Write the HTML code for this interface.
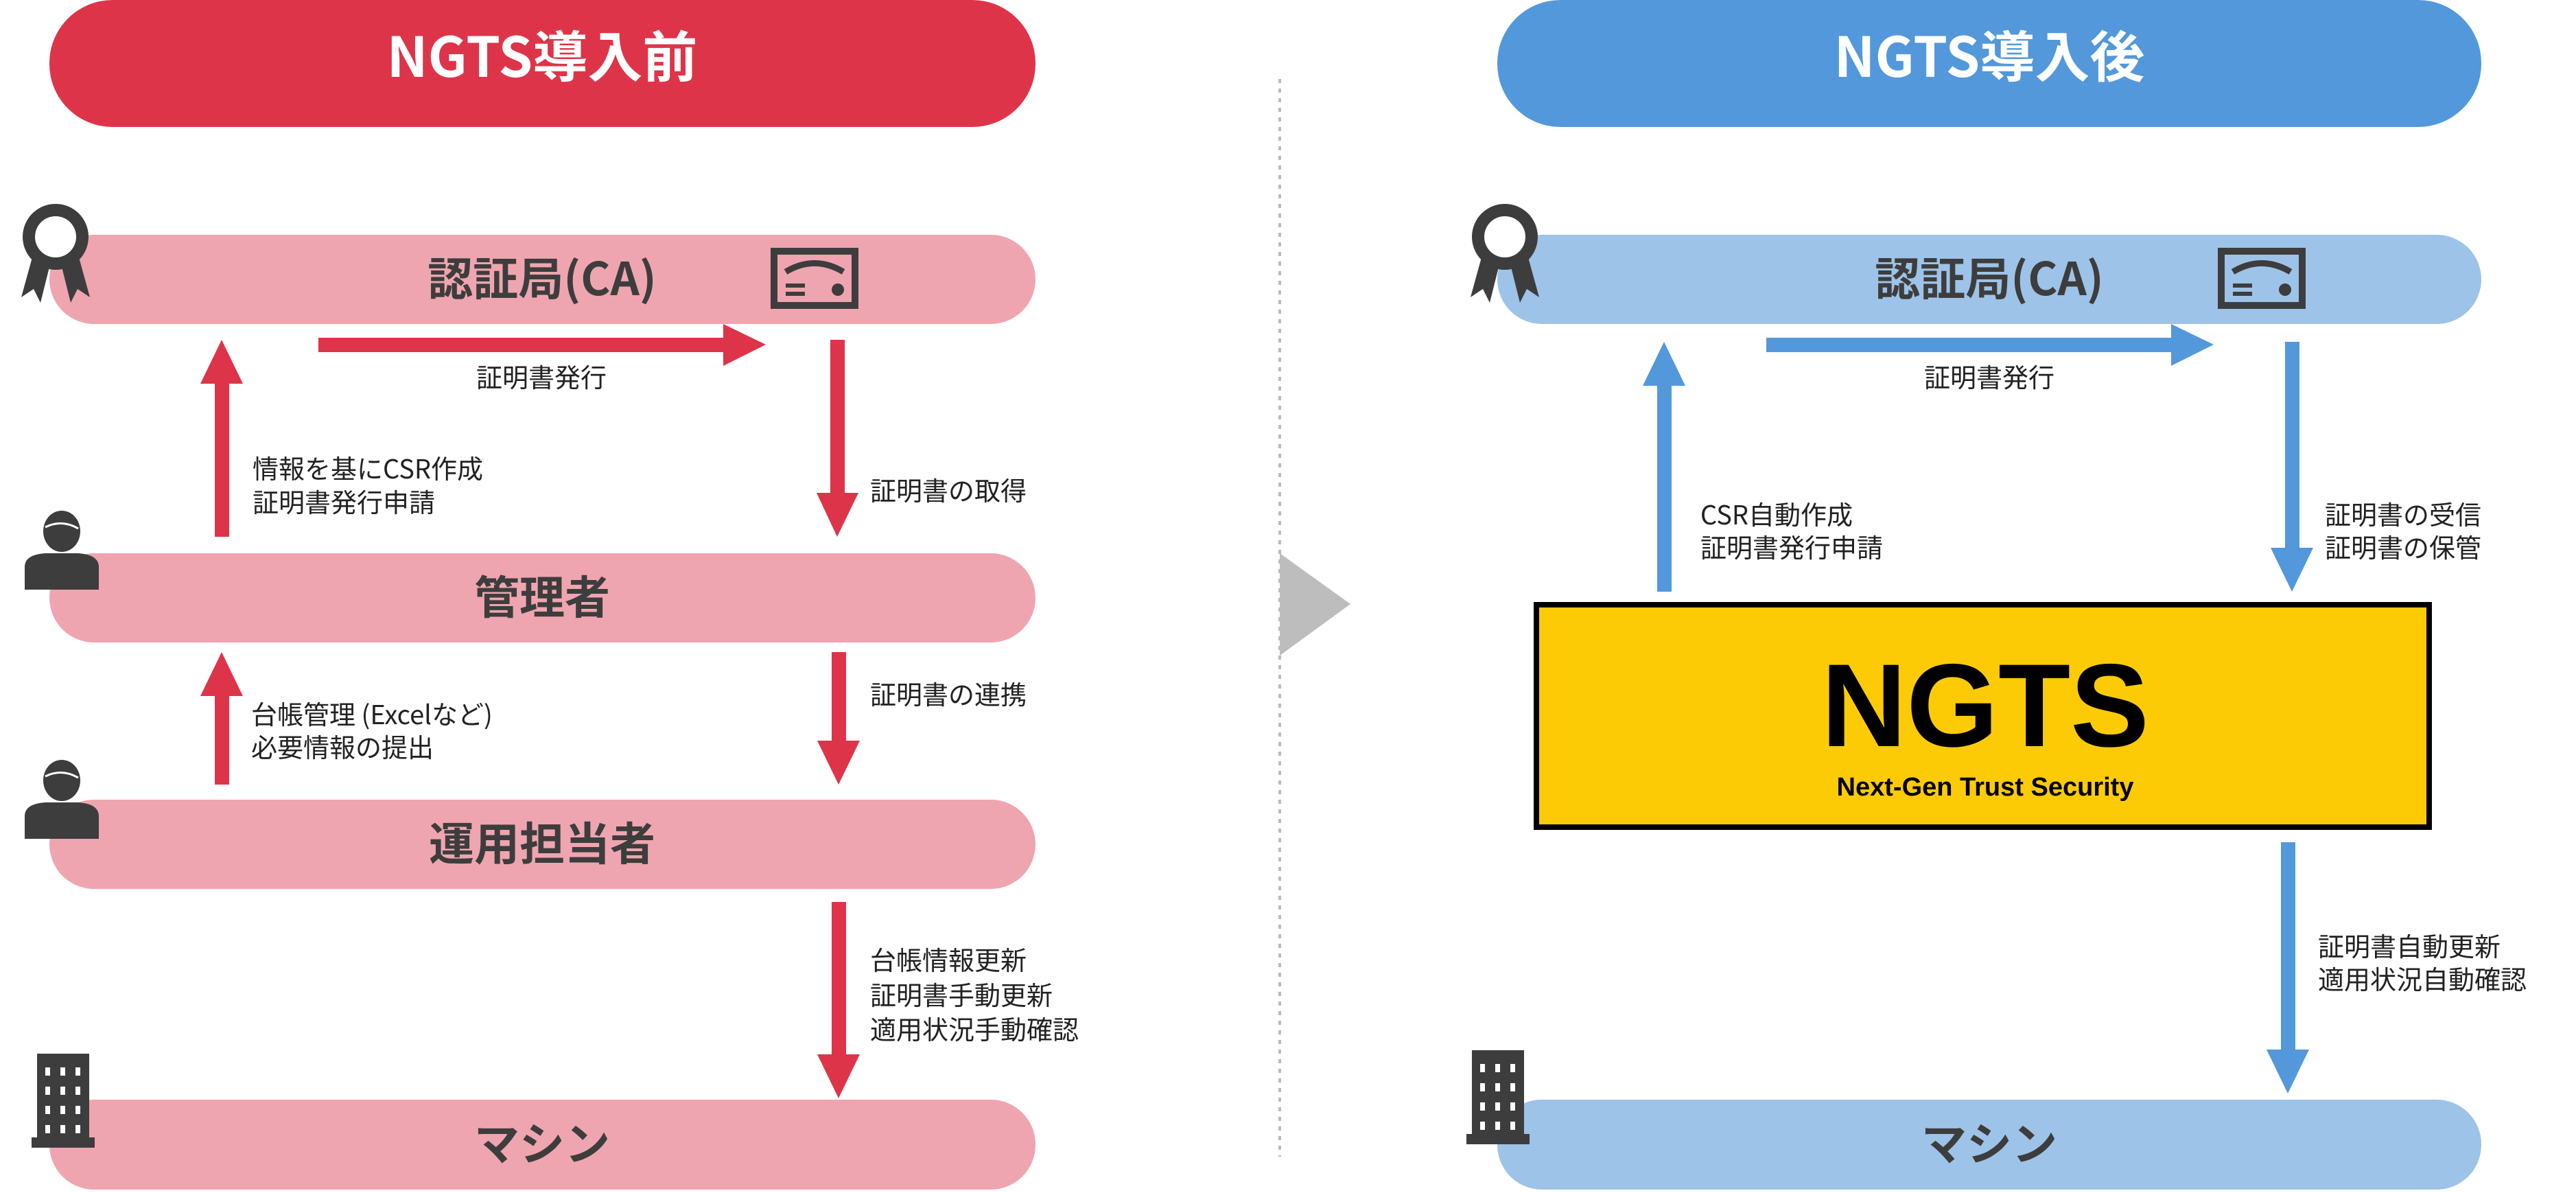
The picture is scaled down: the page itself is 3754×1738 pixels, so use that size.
<!DOCTYPE html>
<html><head><meta charset="utf-8"><style>
html,body{margin:0;padding:0;background:#fff;}
svg{display:block;}
text{font-family:"Liberation Sans","Noto Sans CJK JP",sans-serif;}
.t{font-family:"Noto Sans CJK JP","Liberation Sans",sans-serif;font-weight:700;fill:#3d3d3d;font-size:66px;}
.l{font-family:"Noto Sans CJK JP","Liberation Sans",sans-serif;fill:#222;font-size:38px;}
.h{font-family:"Noto Sans CJK JP","Liberation Sans",sans-serif;font-weight:700;fill:#fff;font-size:80px;}
</style></head><body>
<svg width="3754" height="1738" viewBox="0 0 3754 1738" xmlns="http://www.w3.org/2000/svg">
<defs>
<g id="cert">
 <rect x="5" y="5" width="118" height="79" fill="none" stroke="#3d3d3d" stroke-width="10"/>
 <path d="M22 35 Q64 10 106 35" fill="none" stroke="#3d3d3d" stroke-width="9"/>
 <rect x="22" y="52" width="28" height="6" fill="#3d3d3d"/>
 <rect x="22" y="64" width="28" height="6" fill="#3d3d3d"/>
 <circle cx="98" cy="61" r="9" fill="#3d3d3d"/>
</g>
<g id="ribbon">
 <polygon points="18,82 2,140 20,128 30,148 44,92" fill="#3d3d3d"/>
 <polygon points="86,82 102,140 84,128 74,148 60,92" fill="#3d3d3d"/>
 <circle cx="52" cy="52" r="48" fill="#3d3d3d"/>
 <circle cx="52" cy="52" r="30" fill="#fff"/>
 <circle cx="52" cy="52" r="22" fill="#3d3d3d" opacity="0"/>
</g>
<g id="person">
 <ellipse cx="54" cy="28" rx="27" ry="30" fill="#3d3d3d"/>
 <path d="M30 22 Q54 10 78 24" fill="none" stroke="#fff" stroke-width="3"/>
 <path d="M0 113 L0 80 Q0 62 30 60 L78 60 Q108 62 108 80 L108 113 Z" fill="#3d3d3d"/>
</g>
<g id="bld">
 <rect x="8" y="0" width="76" height="130" fill="#3d3d3d"/>
 <rect x="0" y="122" width="92" height="15" fill="#3d3d3d"/>
 <g fill="#fff">
  <rect x="20" y="20" width="7" height="12"/><rect x="42" y="20" width="7" height="12"/><rect x="64" y="20" width="7" height="12"/>
  <rect x="20" y="48" width="7" height="12"/><rect x="42" y="48" width="7" height="12"/><rect x="64" y="48" width="7" height="12"/>
  <rect x="20" y="76" width="7" height="12"/><rect x="42" y="76" width="7" height="12"/><rect x="64" y="76" width="7" height="12"/>
  <rect x="20" y="104" width="7" height="12"/><rect x="42" y="104" width="7" height="12"/><rect x="64" y="104" width="7" height="12"/>
 </g>
</g>
</defs>

<!-- LEFT -->
<rect x="72" y="0" width="1437" height="185" rx="92" fill="#DE3449"/>
<text class="h" x="790" y="112" text-anchor="middle">NGTS導入前</text>
<rect x="72" y="342" width="1437" height="130" rx="65" fill="#EFA5AF"/>
<text class="t" x="790" y="430" text-anchor="middle">認証局(CA)</text>
<use href="#cert" x="1123" y="361"/>
<use href="#ribbon" x="29" y="293"/>
<rect x="72" y="806" width="1437" height="130" rx="65" fill="#EFA5AF"/>
<text class="t" x="790" y="894" text-anchor="middle">管理者</text>
<use href="#person" x="36" y="746"/>
<rect x="72" y="1165" width="1437" height="130" rx="65" fill="#EFA5AF"/>
<text class="t" x="790" y="1253" text-anchor="middle">運用担当者</text>
<use href="#person" x="36" y="1109"/>
<rect x="72" y="1602" width="1437" height="131" rx="65" fill="#EFA5AF"/>
<text class="t" x="790" y="1690" text-anchor="middle">マシン</text>
<use href="#bld" x="46" y="1535"/>

<g fill="#DE3449">
 <rect x="464" y="492" width="592" height="21"/><polygon points="1054,472 1054,533 1116,502"/>
 <rect x="313" y="557" width="21" height="225"/><polygon points="292,559 354,559 323,495"/>
 <rect x="1210" y="495" width="21" height="225"/><polygon points="1190,718 1251,718 1220,782"/>
 <rect x="313" y="1012" width="21" height="131"/><polygon points="292,1014 354,1014 323,950"/>
 <rect x="1212" y="950" width="21" height="131"/><polygon points="1191,1079 1253,1079 1222,1143"/>
 <rect x="1212" y="1314" width="21" height="224"/><polygon points="1191,1536 1253,1536 1222,1600"/>
</g>
<text class="l" x="789" y="564" text-anchor="middle">証明書発行</text>
<text class="l" x="368" y="697">情報を基にCSR作成</text>
<text class="l" x="368" y="746">証明書発行申請</text>
<text class="l" x="1268" y="729">証明書の取得</text>
<text class="l" x="366" y="1055">台帳管理 (Excelなど)</text>
<text class="l" x="366" y="1103">必要情報の提出</text>
<text class="l" x="1268" y="1026">証明書の連携</text>
<text class="l" x="1268" y="1413">台帳情報更新</text>
<text class="l" x="1268" y="1464">証明書手動更新</text>
<text class="l" x="1268" y="1514">適用状況手動確認</text>

<!-- divider -->
<line x1="1865" y1="115" x2="1865" y2="1685" stroke="#bbb" stroke-width="4" stroke-dasharray="6 8"/>
<polygon points="1865,806 1968,880 1865,955" fill="#bdbdbd"/>

<!-- RIGHT -->
<rect x="2182" y="0" width="1434" height="185" rx="92" fill="#5298DB"/>
<text class="h" x="2899" y="112" text-anchor="middle">NGTS導入後</text>
<rect x="2182" y="342" width="1434" height="130" rx="65" fill="#9DC3E8"/>
<text class="t" x="2899" y="430" text-anchor="middle">認証局(CA)</text>
<use href="#cert" x="3232" y="361"/>
<use href="#ribbon" x="2141" y="293"/>
<rect x="2182" y="1602" width="1434" height="131" rx="65" fill="#9DC3E8"/>
<text class="t" x="2899" y="1690" text-anchor="middle">マシン</text>
<use href="#bld" x="2137" y="1530"/>

<g fill="#5298DB">
 <rect x="2574" y="492" width="592" height="21"/><polygon points="3164,472 3164,533 3226,502"/>
 <rect x="2415" y="560" width="21" height="302"/><polygon points="2394,562 2456,562 2425,498"/>
 <rect x="3330" y="498" width="21" height="302"/><polygon points="3309,798 3371,798 3340,862"/>
 <rect x="3324" y="1227" width="21" height="304"/><polygon points="3303,1529 3365,1529 3334,1593"/>
</g>
<text class="l" x="2899" y="564" text-anchor="middle">証明書発行</text>
<text class="l" x="2478" y="764">CSR自動作成</text>
<text class="l" x="2478" y="812">証明書発行申請</text>
<text class="l" x="3388" y="764">証明書の受信</text>
<text class="l" x="3388" y="812">証明書の保管</text>
<text class="l" x="3378" y="1393">証明書自動更新</text>
<text class="l" x="3378" y="1441">適用状況自動確認</text>

<rect x="2239" y="881" width="1301" height="324" fill="#FDCB06" stroke="#000" stroke-width="8"/>
<text x="2893" y="1087" text-anchor="middle" font-weight="700" font-size="172" fill="#000">NGTS</text>
<text x="2893" y="1159" text-anchor="middle" font-weight="700" font-size="38" fill="#000">Next-Gen Trust Security</text>
</svg>
</body></html>
